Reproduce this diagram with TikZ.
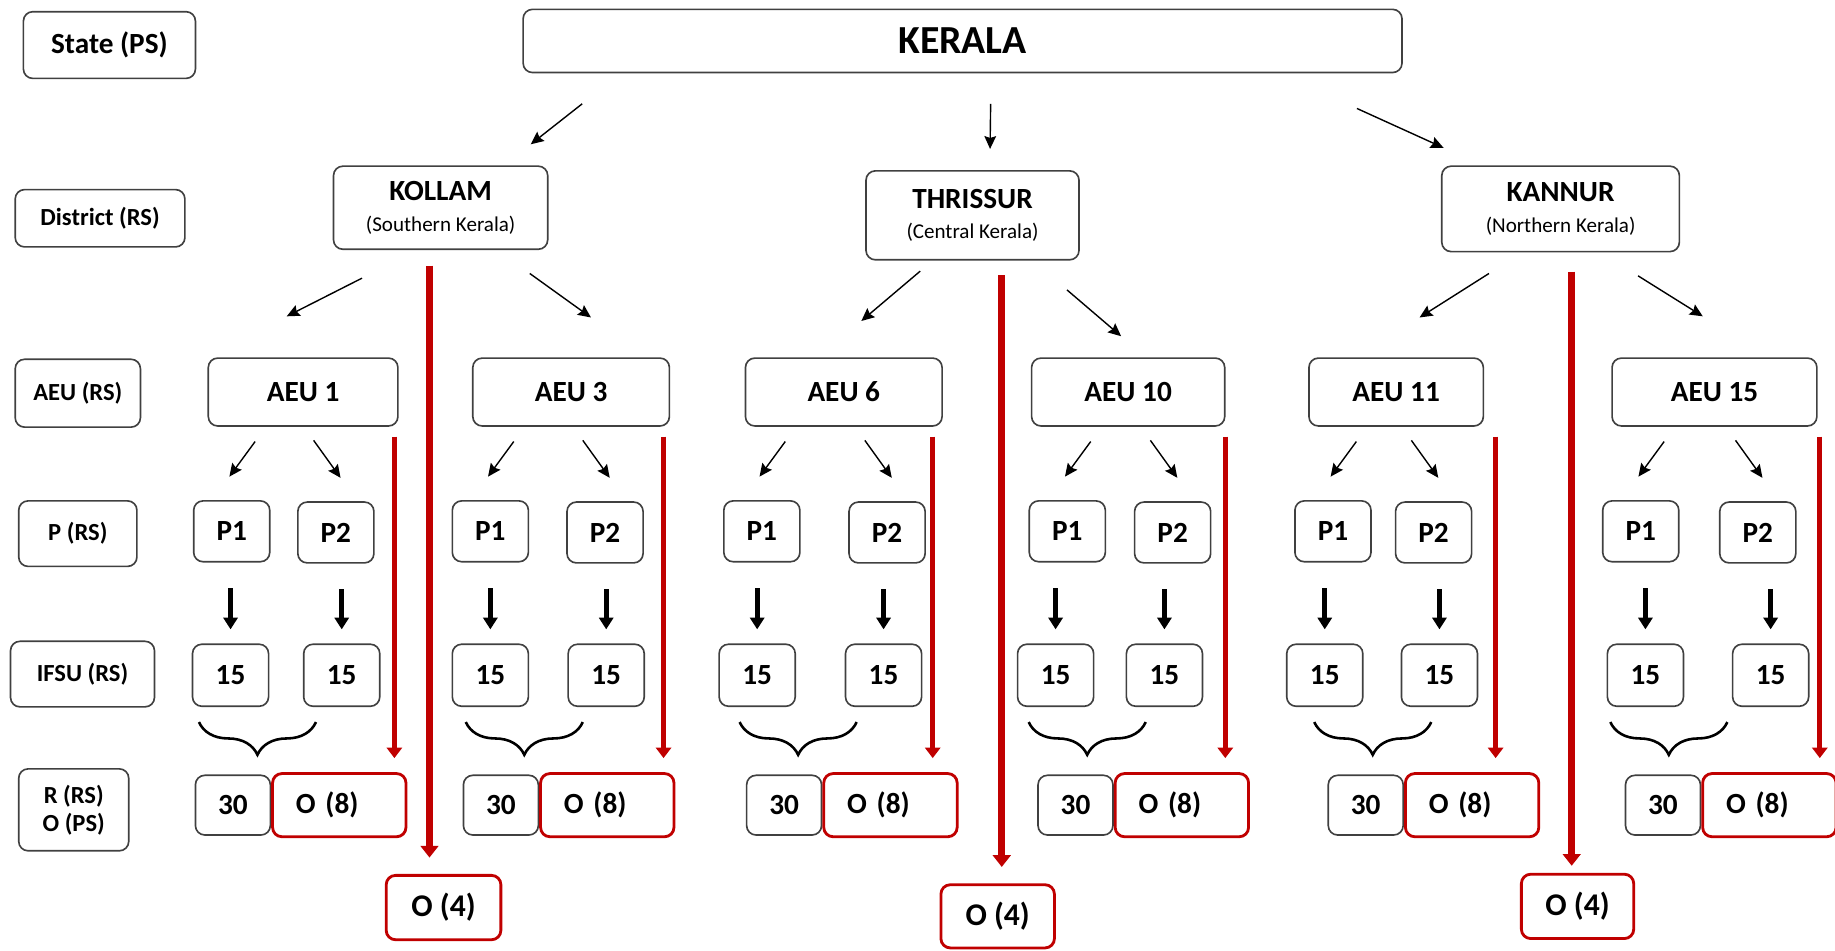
\documentclass[tikz,border=0pt]{standalone}
\usepackage{fontspec}
\setmainfont{Carlito}
\usetikzlibrary{positioning,calc,arrows.meta,decorations.pathreplacing}
\definecolor{boxgray}{HTML}{404040}
\definecolor{kred}{HTML}{C00000}
\tikzset{
	wh/.style 2 args={minimum width={#1*0.5pt},minimum height={#2*0.5pt}},
	box/.style={draw=boxgray,line width=0.7pt,rounded corners=4pt,inner sep=0pt,align=center},
	rowlab/.style={box,font=\fontsize{10.5}{12}\selectfont\bfseries},
	unit/.style={box,font=\fontsize{12.5}{13}\selectfont\bfseries},
	num/.style={box,font=\fontsize{12.5}{15}\selectfont\bfseries},
	obox/.style={box,draw=kred,line width=1.2pt,font=\fontsize{13.5}{16}\selectfont\bfseries},
	oeight/.style={box,draw=kred,line width=1.2pt,font=\fontsize{12.5}{15}\selectfont\bfseries,
		inner xsep=10pt,text width=37pt,align=left,minimum height=27pt},
	arr/.style={-{Stealth[length=5.5pt,width=5pt,inset=0.8pt]},line width=0.6pt},
	fat/.style={-{Triangle[length=5pt,width=6pt]},line width=2pt},
	redarr/.style={kred,-{Triangle[length=4.5pt,width=6.5pt]},line width=2.2pt},
	bigred/.style={kred,-{Triangle[length=5pt,width=7.5pt]},line width=3pt},
	brc/.style={decorate,decoration={brace,mirror,amplitude=14pt},line width=1.1pt}
}
\begin{document}
\begin{tikzpicture}[x=0.5pt,y=-0.5pt]
	\useasboundingbox (0,0) rectangle (1568,812);
	\node[rowlab,font=\fontsize{12.5}{15}\selectfont\bfseries,wh={147}{57}] (state) at (93.5,38.5) {State (PS)};
	\node[rowlab,wh={145}{49}] (dist) at (85.5,186.5) {District (RS)};
	\node[rowlab,wh={107}{58}] (aeu) at (66.5,336) {AEU (RS)};
	\node[rowlab,wh={101}{56}] (plot) at (66.5,456) {P (RS)};
	\node[rowlab,wh={123}{56}] (ifsu) at (70.5,576) {IFSU (RS)};
	\node[rowlab,wh={94}{70}] (resp) at (63,692) {R (RS)\\O (PS)};
	\node[unit,font=\fontsize{17}{20}\selectfont\bfseries,wh={751}{54}] (kerala) at (822.5,35) {KERALA};
	\node[unit,wh={183}{71}] (kollam) at (376.5,177.5) {KOLLAM\\{\fontsize{9}{10}\selectfont\mdseries (Southern Kerala)}};
	\node[unit,wh={182}{76}] (thrissur) at (831,184) {THRISSUR\\{\fontsize{9}{10}\selectfont\mdseries (Central Kerala)}};
	\node[unit,wh={203}{73}] (kannur) at (1333.5,178.5) {KANNUR\\{\fontsize{9}{10}\selectfont\mdseries (Northern Kerala)}};
	\node[obox,wh={98}{55}] (ok) at (379,775.5) {O (4)};
	\node[obox,wh={97}{54}] (ot) at (852.5,783) {O (4)};
	\node[obox,wh={96}{55}] (on) at (1348,774.5) {O (4)};
	\draw[arr] ($(kerala.south)+(-325,26)$) -- ($(kollam.north)+(77,-18)$);
	\draw[arr] ($(kerala.south)+(24,26)$) -- ($(thrissur.north)+(15,-18)$);
	\draw[arr] ($(kerala.south)+(337,30)$) -- ($(kannur.north)+(-100,-15)$);
	\coordinate (kl) at (367,227);
	\coordinate (tl) at (856,235);
	\coordinate (nl) at (1343,232);
	\draw[bigred,shorten >=7pt] (kl) -- (kl |- ok.north);
	\draw[bigred,shorten >=7pt] (tl) -- (tl |- ot.north);
	\draw[bigred,shorten >=3pt] (nl) -- (nl |- on.north);
	\foreach \i/\lbl/\ax/\aw/\pa/\pb/\fa/\fb/\bx/\tx/\rx in {
		1/AEU 1/259/162/198/287/197/292/220/199/337,
		2/AEU 3/488/168/419/517/419/518/448/428/567,
		3/AEU 6/721/168/651/758/647/755/682/670/797,
		4/AEU 10/964/165/912/1002/902/995/929/919/1047,
		5/AEU 11/1193/149/1139/1225/1132/1230/1173/1167/1278,
		6/AEU 15/1465/175/1402/1502/1406/1513/1426/1421/1555}{
		\node[unit,wh={\aw}{58}] (aeu\i) at (\ax,335) {\lbl};
		\node[unit,wh={65}{52}] (pa\i) at (\pa,454) {P1};
		\node[unit,wh={65}{52}] (pb\i) at (\pb,455) {P2};
		\node[unit,wh={65}{53}] (fa\i) at (\fa,577) {15};
		\node[unit,wh={65}{53}] (fb\i) at (\fb,577) {15};
		\node[num,wh={64}{51}] (t\i) at (\tx,688) {30};
		\node[oeight,right=0pt of t\i] (o8\i) {O (8)};
		\draw[arr] ($(pa\i.north)+(20,-50)$) -- ($(pa\i.north)+(-2,-20)$);
		\draw[arr] ($(pb\i.north)+(-19,-52)$) -- ($(pb\i.north)+(4,-20)$);
		\draw[fat,shorten <=11pt,shorten >=6pt] (pa\i.south -| fa\i) -- (fa\i);
		\draw[fat,shorten <=11pt,shorten >=6pt] (pb\i.south -| fb\i) -- (fb\i);
		\draw[brc] ({\bx-50},617) -- ({\bx+50},617);
		\coordinate (rt\i) at (\rx,373);
		\draw[redarr,shorten >=6pt] (rt\i) -- (rt\i |- o8\i.north);
	}
	\draw[arr] ($(kollam.south west)+(25,24)$) -- ($(aeu1.north)+(-14,-35)$);
	\draw[arr] ($(kollam.south east)+(-16,20)$) -- ($(aeu2.north)+(17,-34)$);
	\draw[arr] ($(thrissur.south west)+(47,9)$) -- ($(aeu3.north)+(15,-31)$);
	\draw[arr] ($(thrissur.south east)+(-11,25)$) -- ($(aeu4.north)+(-6,-18)$);
	\draw[arr] ($(kannur.south west)+(41,18)$) -- ($(aeu5.north)+(20,-34)$);
	\draw[arr] ($(kannur.south east)+(-36,20)$) -- ($(aeu6.north)+(-10,-35)$);
\end{tikzpicture}
\end{document}
